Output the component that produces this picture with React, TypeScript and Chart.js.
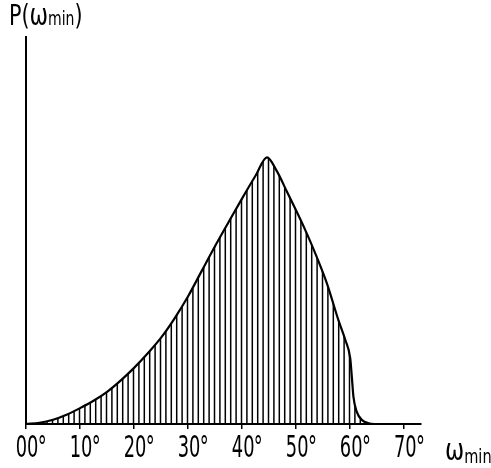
import React, { useEffect, useRef } from "react";
import { Chart, registerables } from "chart.js";

Chart.register(...registerables);

// ω_min in degrees
const angles = [
  0, 2.5, 5, 7.5, 10, 12.5, 15, 17.5, 20, 22.5, 25, 27.5, 30, 32.5, 35, 37.5,
  40, 42.5, 44.6, 46.4, 48.3, 51.4, 53.8, 55.7, 57.8, 59.1, 60, 60.3, 60.6,
  61.2, 62.2, 63.4, 64.5, 73,
];
// P(ω_min), arbitrary units
const probability = [
  0, 0.3, 1.1, 2.4, 4.1, 6.0, 8.3, 11.2, 14.5, 18.2, 22.3, 27.3, 33, 39.5, 46,
  52.2, 58.3, 64.2, 68.9, 65.4, 60.0, 51.0, 43.2, 36.3, 26.9, 21.7, 17, 12.2,
  7, 3.2, 1, 0.2, 0, 0,
];
const tickValues = [0, 10, 20, 30, 40, 50, 60, 70];
const tickLabels = ["00", "10", "20", "30", "40", "50", "60", "70"];
const tickSuffix = "°";

const FONT = "'DejaVu Sans Condensed', 'DejaVu Sans', sans-serif";

export default function App() {
  const canvasRef = useRef<HTMLCanvasElement | null>(null);

  useEffect(() => {
    const canvas = canvasRef.current;
    if (!canvas) return;
    const ctx = canvas.getContext("2d");
    if (!ctx) return;

    // vertical hatching pattern
    const tile = document.createElement("canvas");
    tile.width = 27;
    tile.height = 8;
    const tctx = tile.getContext("2d")!;
    tctx.strokeStyle = "#000";
    tctx.lineWidth = 1.5;
    for (let k = 0; k < 5; k++) {
      const x = 3.9 + 5.4 * k;
      tctx.beginPath();
      tctx.moveTo(x, 0);
      tctx.lineTo(x, 8);
      tctx.stroke();
    }
    const pattern = ctx.createPattern(tile, "repeat")!;

    const tickLabelPlugin = {
      id: "condensedTickLabels",
      afterDraw(chart: any) {
        const scale = chart.scales.x;
        const c = chart.ctx;
        c.save();
        c.fillStyle = "#000";
        c.font = `31px ${FONT}`;
        c.textBaseline = "alphabetic";
        c.textAlign = "left";
        tickValues.forEach((v, i) => {
          const px = scale.getPixelForValue(v);
          const text = tickLabels[i];
          const w = c.measureText(text).width;
          c.save();
          c.translate(px + 1, scale.bottom - 11);
          c.scale(0.64, 1);
          c.fillText(text, -w / 2, 0);
          c.fillText(tickSuffix, w / 2 - 1, 0);
          c.restore();
        });
        c.restore();
      },
    };

    const chart = new Chart(ctx, {
      type: "line",
      data: {
        datasets: [
          {
            data: angles.map((a, i) => ({ x: a, y: probability[i] })),
            borderColor: "#000",
            borderWidth: 2.2,
            pointRadius: 0,
            fill: "origin",
            backgroundColor: pattern as any,
            cubicInterpolationMode: "monotone",
          },
        ],
      },
      options: {
        animation: false,
        responsive: true,
        maintainAspectRatio: false,
        layout: { padding: { left: 26, right: 70, top: 37, bottom: 0 } },
        plugins: { legend: { display: false }, tooltip: { enabled: false } },
        scales: {
          x: {
            type: "linear",
            min: 0,
            max: 73.1,
            afterBuildTicks: (scale: any) => {
              scale.ticks = tickValues.map((v) => ({ value: v }));
            },
            afterFit: (scale: any) => {
              scale.height = 44;
            },
            ticks: { display: false },
            grid: {
              display: true,
              drawOnChartArea: false,
              drawTicks: true,
              tickLength: 5,
              color: "#000",
              lineWidth: 1.5,
            },
            border: { display: true, color: "#000", width: 2 },
          },
          y: {
            type: "linear",
            min: 0,
            max: 100,
            afterFit: (scale: any) => {
              scale.width = 0;
            },
            ticks: { display: false },
            grid: { display: false },
            border: { display: true, color: "#000", width: 2 },
          },
        },
      },
      plugins: [tickLabelPlugin],
    });
    return () => chart.destroy();
  }, []);

  const txt: React.CSSProperties = {
    position: "absolute",
    fontFamily: FONT,
    color: "#000",
    whiteSpace: "nowrap",
    lineHeight: "28px",
    transformOrigin: "left top",
  };

  return (
    <div style={{ position: "fixed", left: 0, top: 0, width: 491, height: 468, background: "#fff", overflow: "hidden" }}>
      <canvas ref={canvasRef} />
      <div style={{ ...txt, left: 9, top: 1, fontSize: 28, transform: "scaleX(0.82)" }}>
        P(<span style={{ fontSize: 30 }}>ω</span>
        <span style={{ fontSize: 19 }}>min</span>)
      </div>
      <div style={{ ...txt, left: 445, top: 436, fontSize: 30, transform: "scaleX(0.85)" }}>
        ω<span style={{ fontSize: 19, position: "relative", top: 3 }}>min</span>
      </div>
    </div>
  );
}
